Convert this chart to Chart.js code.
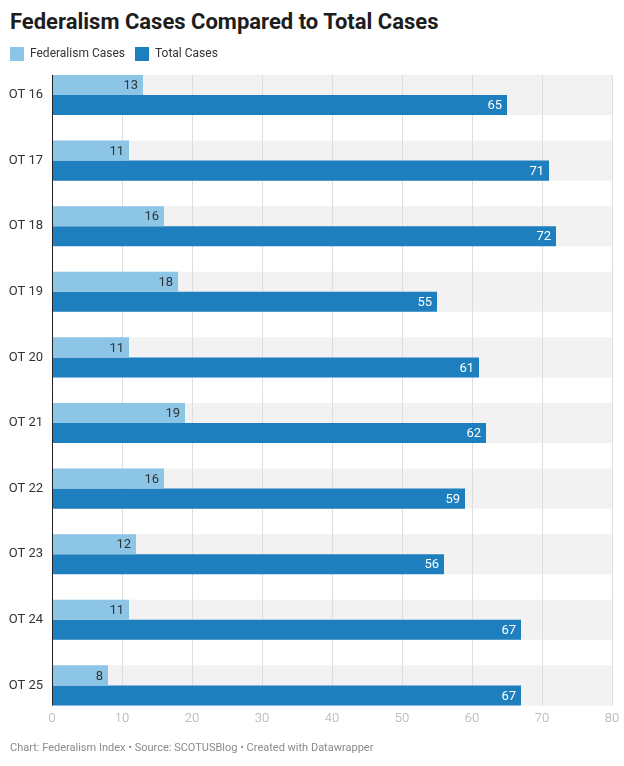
<!DOCTYPE html>
<html>
<head>
<meta charset="utf-8">
<script src="https://cdn.jsdelivr.net/npm/chart.js@4"></script>
<style>
  body { margin: 0; background: #fff; font-family: Roboto, sans-serif; }
  #title { position: absolute; left: 10px; top: 9px; margin: 0; font-size: 22px; font-weight: 700; color: #1d1d1d; }
  #wrap { position: absolute; left: 0; top: 37px; width: 624px; height: 719px; }
  #footer { position: absolute; left: 10px; top: 741px; font-size: 11px; color: #8a8a8a; }
</style>
</head>
<body>
<h1 id="title">Federalism Cases Compared to Total Cases</h1>
<div id="wrap"><canvas id="barChart"></canvas></div>
<div id="footer">Chart: Federalism Index • Source: SCOTUSBlog • Created with Datawrapper</div>
<script>
const terms = ['OT 16', 'OT 17', 'OT 18', 'OT 19', 'OT 20', 'OT 21', 'OT 22', 'OT 23', 'OT 24', 'OT 25'];
const federalismCases = [13, 11, 16, 18, 11, 19, 16, 12, 11, 8];
const totalCases = [65, 71, 72, 55, 61, 62, 59, 56, 67, 67];
const xTicks = [0, 10, 20, 30, 40, 50, 60, 70, 80];

// legend box height sets where the first group sits
const legendGap = {
    id: 'legendGap',
    beforeInit(chart) {
        const fit = chart.legend.fit;
        chart.legend.fit = function() {
            fit.call(this);
            this.height = 58;
        };
    }
};

// grey band behind each group, grid lines and the left axis line
const bands = {
    id: 'bands',
    beforeDatasetsDraw(chart) {
        const ctx = chart.ctx;
        const area = chart.chartArea;
        const x = chart.scales.x;
        const first = chart.getDatasetMeta(0).data[0];
        const last = chart.getDatasetMeta(1).data[terms.length - 1];
        const bandTop = first.y - first.height / 2;
        const bandBottom = last.y + last.height / 2;
        ctx.save();
        ctx.fillStyle = '#f2f2f2';
        chart.getDatasetMeta(0).data.forEach((bar, i) => {
            const low = chart.getDatasetMeta(1).data[i];
            const top = bar.y - bar.height / 2;
            const bottom = low.y + low.height / 2;
            ctx.fillRect(area.left, top, area.right - area.left, bottom - top);
        });
        ctx.strokeStyle = '#dedede';
        ctx.lineWidth = 1;
        xTicks.forEach(v => {
            const px = Math.round(x.getPixelForValue(v)) + 0.5;
            ctx.beginPath();
            ctx.moveTo(px, bandTop);
            ctx.lineTo(px, bandBottom);
            ctx.stroke();
        });
        ctx.restore();
    },
    afterDatasetsDraw(chart) {
        const ctx = chart.ctx;
        const first = chart.getDatasetMeta(0).data[0];
        const last = chart.getDatasetMeta(1).data[terms.length - 1];
        const px = Math.round(chart.chartArea.left) + 0.5;
        ctx.save();
        ctx.strokeStyle = '#222';
        ctx.lineWidth = 1;
        ctx.beginPath();
        ctx.moveTo(px, first.y - first.height / 2);
        ctx.lineTo(px, last.y + last.height / 2);
        ctx.stroke();

        // value labels inside the bar ends
        ctx.font = '13px Roboto';
        ctx.textAlign = 'right';
        ctx.textBaseline = 'middle';
        chart.data.datasets.forEach((ds, d) => {
            ctx.fillStyle = d === 0 ? '#333' : '#fff';
            chart.getDatasetMeta(d).data.forEach((bar, i) => {
                ctx.fillText(ds.data[i], bar.x - 5, bar.y + 1);
            });
        });
        ctx.restore();
    }
};

new Chart(document.getElementById('barChart'), {
    type: 'bar',
    data: {
        labels: terms,
        datasets: [{
            label: 'Federalism Cases',
            data: federalismCases,
            backgroundColor: '#8dc5e7',
            clip: false
        }, {
            label: 'Total Cases',
            data: totalCases,
            backgroundColor: '#1d7fbe',
            clip: false
        }]
    },
    options: {
        indexAxis: 'y',
        responsive: true,
        maintainAspectRatio: false,
        animation: false,
        categoryPercentage: 0.612,
        barPercentage: 1,
        layout: { padding: { left: 0, right: 12, top: 0, bottom: 3 } },
        plugins: {
            tooltip: { enabled: false },
            legend: {
                position: 'top',
                align: 'start',
                labels: {
                    boxWidth: 14,
                    boxHeight: 14,
                    padding: 10,
                    color: '#333',
                    font: { family: 'Roboto', size: 12 }
                }
            }
        },
        scales: {
            x: {
                min: 0,
                max: 80,
                afterBuildTicks: scale => { scale.ticks = xTicks.map(v => ({ value: v })); },
                afterFit: scale => { scale.paddingLeft = 0; scale.paddingRight = 0; },
                grid: { display: false, drawTicks: false },
                border: { display: false },
                ticks: {
                    padding: 26,
                    color: '#aaa',
                    font: { family: 'Roboto', size: 13, weight: '300' }
                }
            },
            y: {
                offset: false,
                afterFit: scale => { scale.width = 52; },
                grid: { display: false, drawTicks: false },
                border: { display: false },
                ticks: {
                    padding: 9,
                    color: '#333',
                    font: { family: 'Roboto', size: 13 }
                }
            }
        }
    },
    plugins: [legendGap, bands]
});
</script>
</body>
</html>
